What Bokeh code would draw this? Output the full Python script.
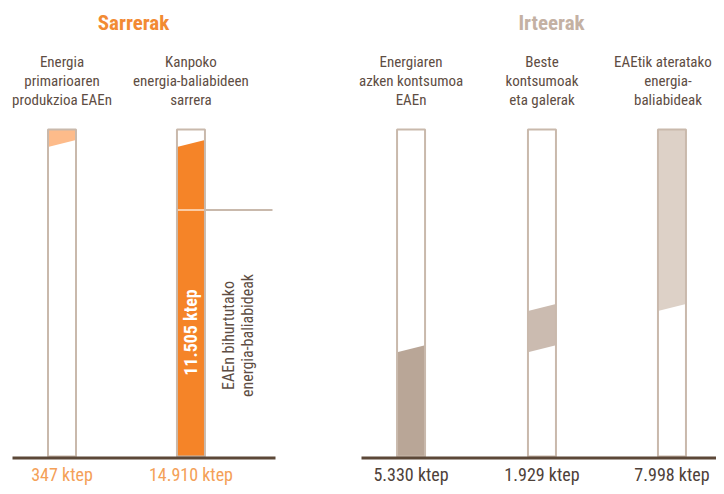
import math
from bokeh.plotting import figure
from bokeh.models import Range1d, Label
from bokeh.embed import file_html
from bokeh.resources import INLINE

# ---------------- data ----------------
group_titles = ["Sarrerak", "Irteerak"]
input_names = [["Energia", "primarioaren", "produkzioa EAEn"],
               ["Kanpoko", "energia-baliabideen", "sarrera"]]
input_values = [347, 14910]
input_value_labels = ["347 ktep", "14.910 ktep"]
output_names = [["Energiaren", "azken kontsumoa", "EAEn"],
                ["Beste", "kontsumoak", "eta galerak"],
                ["EAEtik ateratako", "energia-", "baliabideak"]]
output_values = [5330, 1929, 7998]
output_value_labels = ["5.330 ktep", "1.929 ktep", "7.998 ktep"]
transformed_value = 11505
transformed_label = "11.505 ktep"
transformed_text = ["EAEn bihurtutako", "energia-baliabideak"]

# ---------------- style / layout ----------------
W, H = 716, 486
FONT = "'Roboto Condensed', 'Liberation Sans Narrow', 'DejaVu Sans Condensed', sans-serif"
total = sum(input_values)
FRAME_TOP_PX, BASE_PX = 129, 456          # pixel rows of frame top / base
k = (BASE_PX - FRAME_TOP_PX) / total      # px per ktep
UNIT = 130.0                              # px per x unit
X0_PX = 61.5                              # px of first bar centre
POS = [0.0, 0.992, 2.685, 3.692, 4.692]   # bar positions (x units)
BAR_W = 28 / UNIT
DROP, SLANT = 3.0, 7.0                    # px offsets of slanted band edges

def yv(py):
    return (BASE_PX - py) / k

def xv(px):
    return (px - X0_PX) / UNIT

FRAME_C = "#c9b9ac"
BASE_C = "#5c4838"
TEXT_C = "#5e4d43"
in_fill = ["#fdbb8a", "#f58428"]
out_fill = ["#b9a697", "#cbbbb0", "#ddd1c7"]

p = figure(width=W, height=H, output_backend="svg", toolbar_location=None,
           x_range=Range1d(xv(0), xv(W)), y_range=Range1d(yv(H), yv(0)),
           min_border=0, outline_line_color=None, background_fill_color="white")
p.axis.visible = False
p.grid.visible = False

def edge(v):
    if v <= 0 or v >= total:
        return v, v
    return v - (DROP + SLANT) / k, v - DROP / k

def band(c, lo, hi):
    x0, x1 = c - BAR_W / 2, c + BAR_W / 2
    lo_l, lo_r = edge(lo)
    hi_l, hi_r = edge(hi)
    return [x0, x1, x1, x0], [lo_l, lo_r, hi_r, hi_l]

# bands: inputs stacked bottom-up in reverse order, outputs in order
in_bands = [None] * len(input_values)
cum = 0
for i in reversed(range(len(input_values))):
    in_bands[i] = (cum, cum + input_values[i])
    cum += input_values[i]
out_bands = []
cum = 0
for v in output_values:
    out_bands.append((cum, cum + v))
    cum += v

xs, ys, cols = [], [], []
for i, (lo, hi) in enumerate(in_bands):
    bx, by_ = band(POS[i], lo, hi)
    xs.append(bx); ys.append(by_); cols.append(in_fill[i])
for j, (lo, hi) in enumerate(out_bands):
    bx, by_ = band(POS[2 + j], lo, hi)
    xs.append(bx); ys.append(by_); cols.append(out_fill[j])
p.patches(xs, ys, fill_color=cols, line_color=None)

# transformed-share line (through bar 2 and out to the right)
c2 = POS[1]
p.segment(x0=[c2 + BAR_W / 2], y0=[transformed_value], x1=[xv(272)], y1=[transformed_value],
          line_color=FRAME_C, line_width=2)
p.segment(x0=[c2 - BAR_W / 2], y0=[transformed_value], x1=[c2 + BAR_W / 2], y1=[transformed_value],
          line_color="#fbcba4", line_width=2)

# frames
p.rect(x=POS, y=[total / 2] * 5, width=BAR_W, height=total,
       fill_color=None, line_color=FRAME_C, line_width=2)

# baselines
by = yv(457.5)
p.segment(x0=[xv(12), xv(361)], y0=[by, by], x1=[xv(275), xv(W)], y1=[by, by],
          line_color=BASE_C, line_width=3)

def lab(x, y, text, size, color, bold=False, angle=0.0):
    p.add_layout(Label(x=x, y=y, text=text, text_font=FONT, text_font_size=size,
                       text_color=color, text_align="center", text_baseline="middle",
                       text_font_style="bold" if bold else "normal", angle=angle))

# group titles
lab(xv(133), yv(22.5), group_titles[0], "21px", "#f28a33", bold=True)
lab(xv(551), yv(22.5), group_titles[1], "21px", "#c4b1a3", bold=True)

# category labels
names = input_names + output_names
shift = [[0, 0, 0], [0, 0, 0], [0, 0, 0], [0, 0, 0], [-9, -4, -4]]
for i, lines in enumerate(names):
    for li, t in enumerate(lines):
        lab(POS[i] + shift[i][li] / UNIT, yv(61.5 + 19 * li), t, "15px", TEXT_C)

# bottom values
vals = input_value_labels + output_value_labels
for i, t in enumerate(vals):
    col = "#f4a057" if i < 2 else "#4e4139"
    lab(POS[i], yv(474), t, "18px", col)

# rotated labels
lab(c2, yv(332), transformed_label, "18px", "white", bold=True, angle=math.pi / 2)
lab(xv(228), yv(335), transformed_text[0], "16px", TEXT_C, angle=math.pi / 2)
lab(xv(247), yv(335), transformed_text[1], "16px", TEXT_C, angle=math.pi / 2)

open("out.html", "w").write(file_html(p, INLINE))
